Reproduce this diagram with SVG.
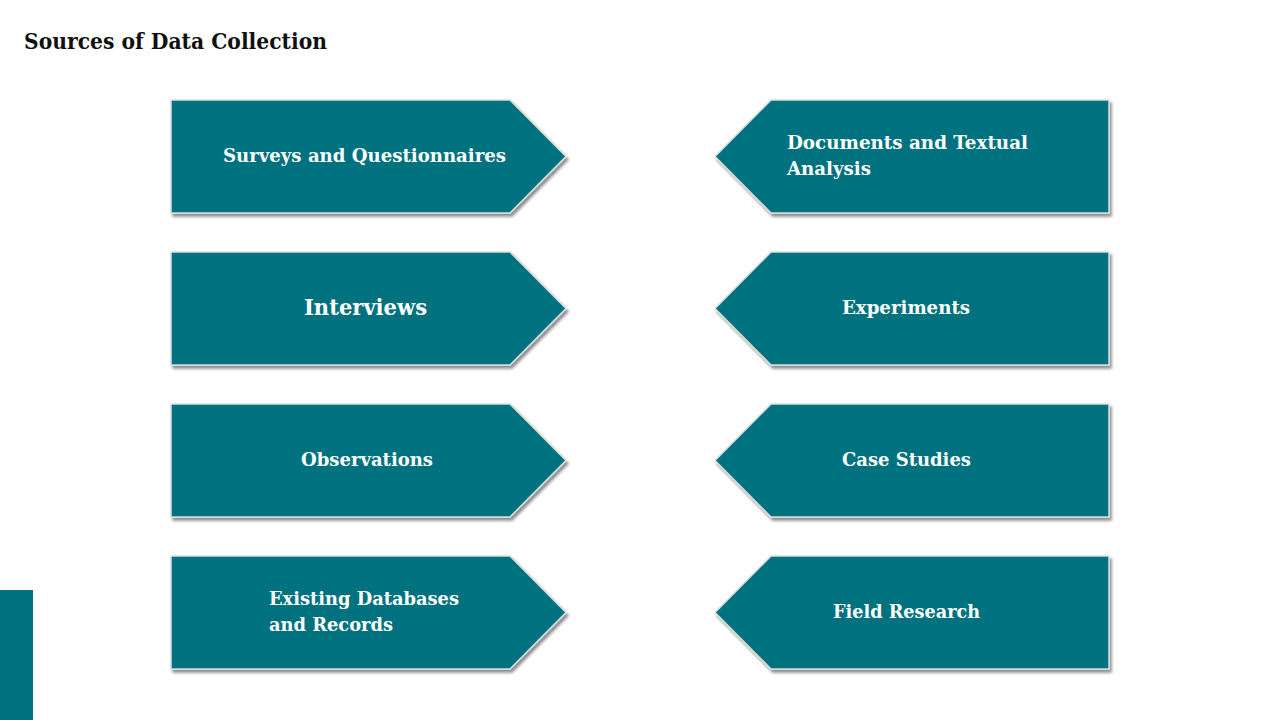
<svg xmlns="http://www.w3.org/2000/svg" width="1280" height="720" viewBox="0 0 1280 720">
<defs>
<filter id="sh" x="-10%" y="-10%" width="125%" height="130%">
<feGaussianBlur in="SourceAlpha" stdDeviation="1.5"/>
<feOffset dx="2" dy="3" result="b"/>
<feComponentTransfer><feFuncA type="linear" slope="0.45"/></feComponentTransfer>
<feMerge><feMergeNode/><feMergeNode in="SourceGraphic"/></feMerge>
</filter>
<path id="ra" d="M0,0 H339 L395,56.5 L339,113 H0 Z"/>
<path id="la" d="M56,0 H394 V113 H56 L0,56.5 Z"/>
</defs>
<style>
.box{fill:#00727F;stroke:#d6dfe0;stroke-width:1.5;filter:url(#sh)}
.t{font-family:"DejaVu Serif","Liberation Serif",serif;font-weight:bold;fill:#ffffff;font-size:18px}
.title{font-family:"DejaVu Serif","Liberation Serif",serif;font-weight:bold;fill:#111111;font-size:22px}
</style>
<rect width="1280" height="720" fill="#ffffff"/>
<text class="title" x="24" y="49" textLength="303" lengthAdjust="spacingAndGlyphs">Sources of Data Collection</text>
<rect x="0" y="590" width="33" height="130" fill="#00727F"/>
<g id="connectors"/>
<g id="n1"><use href="#ra" x="171" y="100" class="box"/><text class="t" x="223" y="162" textLength="283" lengthAdjust="spacingAndGlyphs">Surveys and Questionnaires</text></g>
<g id="n2"><use href="#ra" x="171" y="252" class="box"/><text class="t" x="304" y="315" style="font-size:22px" textLength="123" lengthAdjust="spacingAndGlyphs">Interviews</text></g>
<g id="n3"><use href="#ra" x="171" y="404" class="box"/><text class="t" x="301" y="466" textLength="132" lengthAdjust="spacingAndGlyphs">Observations</text></g>
<g id="n4"><use href="#ra" x="171" y="556" class="box"/><text class="t" x="269" y="605" textLength="190" lengthAdjust="spacingAndGlyphs">Existing Databases</text><text class="t" x="269" y="631" textLength="124" lengthAdjust="spacingAndGlyphs">and Records</text></g>
<g id="n5"><use href="#la" x="715" y="100" class="box"/><text class="t" x="787" y="149" textLength="241" lengthAdjust="spacingAndGlyphs">Documents and Textual</text><text class="t" x="787" y="175" textLength="84" lengthAdjust="spacingAndGlyphs">Analysis</text></g>
<g id="n6"><use href="#la" x="715" y="252" class="box"/><text class="t" x="842" y="314" textLength="128" lengthAdjust="spacingAndGlyphs">Experiments</text></g>
<g id="n7"><use href="#la" x="715" y="404" class="box"/><text class="t" x="842" y="466" textLength="129" lengthAdjust="spacingAndGlyphs">Case Studies</text></g>
<g id="n8"><use href="#la" x="715" y="556" class="box"/><text class="t" x="833" y="618" textLength="147" lengthAdjust="spacingAndGlyphs">Field Research</text></g>
</svg>
